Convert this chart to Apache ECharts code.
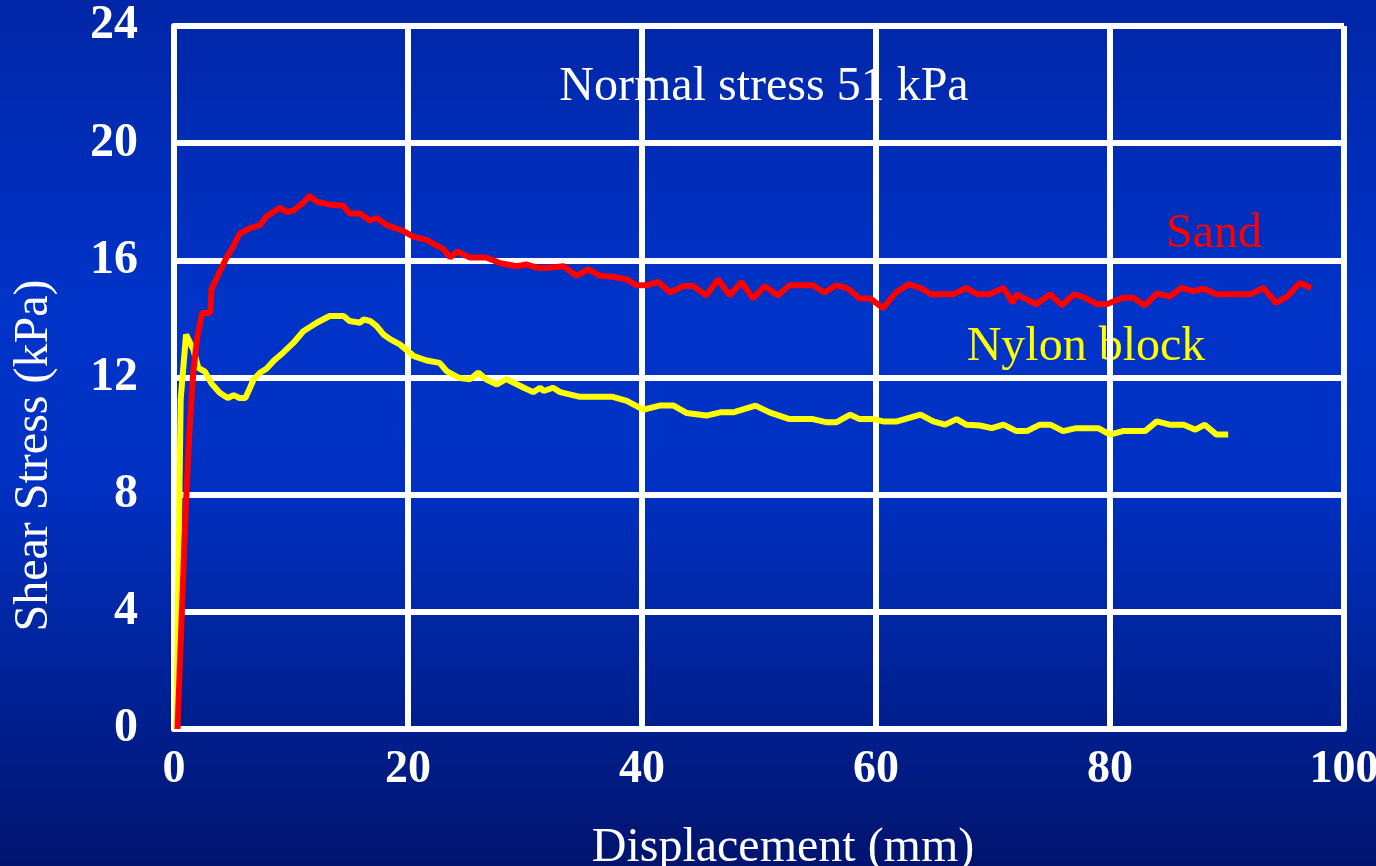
<!DOCTYPE html>
<html>
<head>
<meta charset="utf-8">
<script src="https://cdn.jsdelivr.net/npm/echarts@6/dist/echarts.min.js"></script>
<style>
html,body{margin:0;padding:0;width:1376px;height:866px;overflow:hidden;}
#chart{width:1376px;height:866px;}
</style>
</head>
<body>
<div id="chart"></div>
<script>
// ---- data ----
const xTicks = [0, 20, 40, 60, 80, 100];
const yTicks = [0, 4, 8, 12, 16, 20, 24];

const sandX = [0.3,1.0,1.3,1.65,2.0,2.4,3.1,3.2,3.9,4.5,5.1,5.6,6.5,7.35,7.9,9.1,9.6,10.2,11.05,11.6,12.2,13.3,14.5,15.0,15.9,16.75,17.3,18.2,19.6,20.5,21.6,22.45,23.0,23.6,24.2,25.3,26.7,27.9,29.3,30.1,31.0,32.1,33.3,34.4,35.4,36.4,37.5,38.7,39.5,40.4,41.4,42.4,43.5,44.4,45.5,46.5,47.5,48.5,49.5,50.5,51.6,52.6,54.6,55.6,56.6,57.6,58.6,59.5,60.6,61.7,62.8,63.8,64.7,66.6,67.7,68.7,69.7,70.9,71.7,72.0,73.7,74.9,75.9,76.9,77.7,78.9,79.7,81.1,82.0,83.0,84.0,85.1,86.1,87.1,88.0,89.1,92.0,93.1,94.2,95.2,96.2,97.2];
const sandY = [0,7.5,10.0,12.2,13.4,14.2,14.2,15.0,15.6,16.1,16.5,16.9,17.1,17.2,17.5,17.8,17.65,17.7,17.97,18.2,18.0,17.9,17.86,17.6,17.6,17.35,17.45,17.2,17.0,16.8,16.7,16.5,16.4,16.1,16.3,16.1,16.1,15.9,15.8,15.86,15.75,15.75,15.8,15.47,15.7,15.47,15.44,15.35,15.15,15.15,15.26,14.9,15.12,15.12,14.8,15.35,14.8,15.26,14.7,15.12,14.8,15.15,15.15,14.9,15.15,15.03,14.7,14.7,14.37,14.9,15.18,15.06,14.84,14.84,15.06,14.84,14.84,15.06,14.55,14.84,14.5,14.84,14.46,14.84,14.75,14.5,14.5,14.72,14.72,14.46,14.87,14.76,15.06,14.95,15.03,14.84,14.84,15.06,14.55,14.78,15.23,15.06];

const nylonX = [0.2,0.57,1.03,1.65,2.08,2.65,3.2,3.9,4.6,5.1,5.6,6.1,6.5,6.8,7.35,7.9,8.5,9.3,10.2,11.05,12.2,13.3,14.5,15.0,15.9,16.2,16.75,17.3,17.9,18.5,19.3,20.5,21.6,22.7,23.3,24.4,25.3,26.0,26.7,27.6,28.4,29.9,30.7,31.3,31.6,32.4,33.0,34.7,37.5,38.7,40.1,41.5,42.7,43.8,45.5,46.7,47.8,49.7,50.9,52.6,54.6,55.8,56.6,57.8,58.6,59.8,60.6,61.8,63.8,64.9,65.9,66.9,67.7,68.9,69.9,70.9,72.0,72.9,74.0,74.9,76.0,77.1,79.0,80.0,81.1,83.0,84.0,85.1,86.3,87.3,88.1,89.1,90.1];
const nylonY = [0,11.25,13.47,12.96,12.33,12.2,11.8,11.48,11.3,11.4,11.3,11.3,11.65,11.93,12.16,12.3,12.56,12.84,13.18,13.58,13.87,14.1,14.1,13.93,13.87,13.98,13.93,13.76,13.47,13.3,13.13,12.73,12.58,12.5,12.22,11.98,11.94,12.17,11.93,11.76,11.95,11.65,11.5,11.65,11.54,11.65,11.5,11.34,11.34,11.2,10.9,11.04,11.04,10.79,10.7,10.81,10.81,11.04,10.81,10.58,10.58,10.47,10.47,10.73,10.58,10.58,10.5,10.5,10.73,10.5,10.39,10.58,10.39,10.36,10.27,10.39,10.17,10.17,10.39,10.39,10.17,10.27,10.27,10.05,10.17,10.17,10.5,10.39,10.39,10.22,10.39,10.05,10.05];

const titleText = 'Normal stress 51 kPa';
const sandLabel = 'Sand';
const nylonLabel = 'Nylon block';
const xName = 'Displacement (mm)';
const yName = 'Shear Stress (kPa)';

// ---- chart ----
const zip = (xs, ys) => xs.map((x, i) => [x, ys[i]]);
const serif = '"Liberation Serif", "Times New Roman", serif';

const chart = echarts.init(document.getElementById('chart'), null, {renderer: 'canvas'});
chart.setOption({
  animation: false,
  backgroundColor: {
    type: 'linear', x: 0, y: 0, x2: 0, y2: 1,
    colorStops: [
      {offset: 0, color: '#0026a6'},
      {offset: 0.35, color: '#0033c8'},
      {offset: 0.55, color: '#0031c4'},
      {offset: 1, color: '#00146e'}
    ]
  },
  grid: {left: 174, right: 32, top: 26, bottom: 137, containLabel: false, outerBoundsMode: 'none'},
  xAxis: {
    type: 'value', min: xTicks[0], max: xTicks[xTicks.length - 1], interval: 20,
    name: xName, nameLocation: 'middle', nameGap: 95,
    nameTextStyle: {color: '#ffffff', fontFamily: serif, fontSize: 48, padding: [0, 0, 0, 48]},
    axisLine: {show: true, lineStyle: {color: '#ffffff', width: 6}},
    axisTick: {show: false},
    splitLine: {show: true, lineStyle: {color: '#ffffff', width: 6}},
    axisLabel: {color: '#ffffff', fontFamily: serif, fontWeight: 'bold', fontSize: 46, margin: 18}
  },
  yAxis: {
    type: 'value', min: yTicks[0], max: yTicks[yTicks.length - 1], interval: 4,
    name: yName, nameLocation: 'middle', nameGap: 116, nameRotate: 90,
    nameTextStyle: {color: '#ffffff', fontFamily: serif, fontSize: 48, padding: [0, 156, 0, 0]},
    axisLine: {show: true, lineStyle: {color: '#ffffff', width: 6}},
    axisTick: {show: false},
    splitLine: {show: true, lineStyle: {color: '#ffffff', width: 6}},
    axisLabel: {color: '#ffffff', fontFamily: serif, fontWeight: 'bold', fontSize: 48, margin: 36}
  },
  graphic: [
    {type: 'text', z: -10, x: 764, y: 87, style: {text: titleText, fill: '#ffffff', font: '48px ' + serif, align: 'center', verticalAlign: 'middle'}},
    {type: 'text', z: -10, x: 1214, y: 234, style: {text: sandLabel, fill: '#ff0000', font: '48px ' + serif, align: 'center', verticalAlign: 'middle'}},
    {type: 'text', z: -10, x: 1086, y: 347, style: {text: nylonLabel, fill: '#ffff00', font: '48px ' + serif, align: 'center', verticalAlign: 'middle'}}
  ],
  series: [
    {type: 'line', name: 'Nylon block', data: zip(nylonX, nylonY), showSymbol: false, smooth: false,
     lineStyle: {color: '#ffff00', width: 6}, itemStyle: {color: '#ffff00'}, z: 3},
    {type: 'line', name: 'Sand', data: zip(sandX, sandY), showSymbol: false, smooth: false,
     lineStyle: {color: '#ff0000', width: 6}, itemStyle: {color: '#ff0000'}, z: 4}
  ]
});
</script>
</body>
</html>
